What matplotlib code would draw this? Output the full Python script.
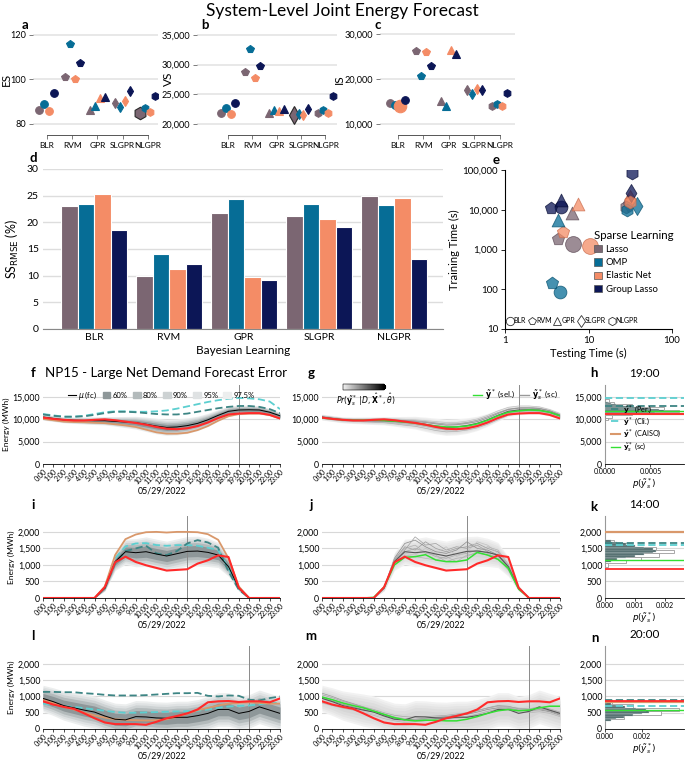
import numpy as np
import matplotlib
matplotlib.use('Agg')
import matplotlib.pyplot as plt
from matplotlib.lines import Line2D
from matplotlib.patches import Patch
from matplotlib.colorbar import ColorbarBase
from matplotlib.colors import LinearSegmentedColormap
from matplotlib.ticker import FuncFormatter, NullLocator

plt.rcParams['font.family'] = ['Lato', 'DejaVu Sans']
plt.rcParams['mathtext.fontset'] = 'dejavusans'

W, H = 685, 761

models = ['BLR', 'RVM', 'GPR', 'SLGPR', 'NLGPR']
methods = ['Lasso', 'OMP', 'Elastic Net', 'Group Lasso']
hours = ['%d:00' % h for h in range(24)]
date_label = '05/29/2022'
band_levels = ['60%', '80%', '90%', '95%', '97.5%']
band_z = [0.8416, 1.2816, 1.6449, 1.96, 2.2414]

# a-e, rows = models, columns = methods
es_scores = [[86.5, 89, 86, 94], [101, 116, 100, 107.5], [86.5, 88, 91.5, 92],
             [89.5, 87.5, 90.5, 95], [85, 87, 85.5, 92.5]]
vs_scores = [[21800, 22700, 21700, 23500], [28700, 32600, 27800, 29800], [21800, 22300, 22200, 22500],
             [21500, 21700, 21500, 22600], [21800, 22400, 21800, 24800]]
is_scores = [[14700, 14300, 14000, 15400], [26300, 20600, 26000, 23000], [15000, 14100, 26400, 25600],
             [17500, 16600, 17700, 17600], [14000, 14400, 14100, 16800]]
ss_rmse = [[23.0, 23.5, 25.3, 18.6], [10.0, 14.0, 11.3, 12.2], [21.8, 24.3, 9.8, 9.2],
           [21.1, 23.5, 20.7, 19.1], [24.9, 23.2, 24.5, 13.1]]
test_time = [[6.6, 4.6, 10.4, 4.7], [4.35, 3.7, 5.0, 3.6], [6.3, 4.35, 7.55, 4.7],
             [30, 38.5, 31.4, 32], [28, 28.7, 31, 32.9]]
train_time = [[1360, 83, 1190, 12000], [1820, 143, 2720, 11300], [8200, 5560, 13700, 17700],
              [14500, 12500, 19000, 26000], [11500, 10000, 16000, 82000]]

# f/g/h : NP15 net demand, 19:00
f_mu = [10500, 10200, 9900, 9800, 9750, 9700, 9700, 9550, 9400, 9250, 8900, 8500,
        8200, 8300, 8600, 9100, 9900, 10900, 11800, 12100, 12150, 12100, 11600, 10800]
f_sd = [300, 300, 300, 320, 350, 380, 420, 480, 560, 640, 720, 780,
        800, 800, 780, 720, 650, 580, 520, 480, 450, 420, 380, 350]
f_obs = [10400, 10100, 9900, 9750, 9750, 9900, 10000, 9800, 9500, 9200, 8800, 8300,
         7900, 7800, 8000, 8500, 9300, 10300, 11100, 11300, 11400, 11400, 11000, 10200]
f_caiso = [10100, 9800, 9500, 9400, 9350, 9250, 9150, 8900, 8650, 8300, 7700, 7100,
           6800, 6800, 7000, 7600, 8500, 9700, 10700, 11200, 11300, 11300, 11000, 10200]
f_cli = [11200, 10900, 10600, 10600, 10800, 11200, 11600, 11800, 11800, 11700, 11700, 11800,
         12000, 12400, 12900, 13400, 13900, 14300, 14600, 14800, 14700, 14500, 14000, 12300]
f_per = [11100, 10800, 10600, 10600, 10700, 11000, 11400, 11700, 11700, 11600, 11400, 11200,
         11100, 11100, 11300, 11700, 12100, 12500, 12800, 13000, 13000, 12800, 12300, 11400]
g_sel = [10300, 10100, 9900, 9800, 9800, 9850, 9750, 9600, 9400, 9150, 8800, 8500,
         8300, 8300, 8500, 9000, 9800, 10800, 11600, 11900, 12100, 12000, 11600, 10800]
g_scen = [
    [10700, 10400, 10100, 10000, 10000, 10000, 10050, 9950, 9800, 9700, 9500, 9200,
     8950, 9000, 9300, 9800, 10600, 11500, 12300, 12600, 12700, 12500, 12000, 11100],
    [10300, 10000, 9750, 9650, 9550, 9450, 9400, 9200, 8950, 8750, 8400, 7900,
     7600, 7650, 7900, 8400, 9200, 10200, 11200, 11600, 11700, 11600, 11200, 10500],
    [10600, 10300, 10000, 9900, 9900, 9850, 9900, 9800, 9700, 9500, 9300, 9000,
     8700, 8800, 9100, 9500, 10300, 11300, 12200, 12500, 12500, 12400, 11900, 11000],
    [10400, 10100, 9800, 9700, 9650, 9600, 9550, 9350, 9150, 8950, 8600, 8100,
     7800, 7900, 8200, 8700, 9500, 10500, 11500, 11800, 11900, 11800, 11400, 10600],
    [10800, 10500, 10200, 10100, 10100, 10150, 10200, 10100, 10000, 9900, 9700, 9500,
     9300, 9300, 9600, 10100, 10900, 11900, 12700, 13000, 13000, 12800, 12200, 11300],
    [10200, 9900, 9650, 9550, 9450, 9350, 9250, 9000, 8700, 8450, 8000, 7500,
     7200, 7300, 7600, 8100, 8900, 9900, 10900, 11300, 11400, 11400, 11000, 10300],
]
h_edges = [11000, 11250, 11500, 11750, 12000, 12250, 12500, 12750, 13000, 13250, 13500, 13750, 14000]
h_dens = [0.0001, 0.0003, 0.00055, 0.00065, 0.0006, 0.0005, 0.0004, 0.0003, 0.0002, 0.00012, 0.00007, 0.00003]
h_edges2 = [9800, 10400, 11000, 11600, 12200, 12800, 13400, 14000, 14600]
h_dens2 = [0.00003, 0.00008, 0.0003, 0.00082, 0.00065, 0.0003, 0.0001, 0.00004]

# i/j/k : 14:00
i_mu = [0, 0, 0, 0, 0, 0, 300, 1100, 1400, 1370, 1400, 1330, 1270, 1340, 1410, 1420, 1380, 1300, 950, 300, 0, 0, 0, 0]
i_sd = [0, 0, 0, 0, 0, 0, 40, 120, 170, 190, 200, 200, 200, 200, 200, 200, 190, 170, 130, 40, 0, 0, 0, 0]
i_obs = [0, 0, 0, 0, 0, 0, 330, 1080, 1250, 1090, 990, 910, 830, 850, 870, 1040, 1140, 1290, 1240, 310, 0, 0, 0, 0]
i_caiso = [0, 0, 0, 0, 0, 0, 350, 1300, 1780, 1920, 1990, 2000, 1980, 2000, 2000, 1990, 1930, 1760, 1200, 350, 0, 0, 0, 0]
i_cli = [0, 0, 0, 0, 0, 0, 320, 1200, 1560, 1650, 1660, 1600, 1580, 1600, 1600, 1580, 1520, 1450, 900, 280, 0, 0, 0, 0]
i_per = [0, 0, 0, 0, 0, 0, 300, 1050, 1420, 1500, 1580, 1350, 1300, 1420, 1650, 1750, 1680, 1520, 800, 250, 0, 0, 0, 0]
j_sel = [0, 0, 0, 0, 0, 20, 330, 1000, 1230, 1250, 1310, 1150, 1100, 1100, 1150, 1380, 1300, 1170, 900, 270, 0, 0, 0, 0]
j_scen = [
    [0, 0, 0, 0, 0, 0, 320, 1150, 1550, 1450, 1700, 1500, 1400, 1500, 1550, 1650, 1500, 1400, 950, 280, 0, 0, 0, 0],
    [0, 0, 0, 0, 0, 0, 280, 1050, 1300, 1250, 1200, 1150, 1250, 1100, 1300, 1350, 1300, 1250, 900, 300, 0, 0, 0, 0],
    [0, 0, 0, 0, 0, 0, 310, 1200, 1650, 1750, 1550, 1400, 1350, 1450, 1700, 1500, 1450, 1300, 1000, 320, 0, 0, 0, 0],
    [0, 0, 0, 0, 0, 0, 290, 1100, 1400, 1500, 1400, 1250, 1200, 1300, 1350, 1450, 1350, 1200, 850, 260, 0, 0, 0, 0],
    [0, 0, 0, 0, 0, 0, 300, 1080, 1350, 1300, 1500, 1350, 1550, 1250, 1400, 1700, 1600, 1350, 980, 300, 0, 0, 0, 0],
    [0, 0, 0, 0, 0, 0, 330, 1180, 1500, 1600, 1350, 1300, 1100, 1200, 1250, 1400, 1550, 1450, 1020, 290, 0, 0, 0, 0],
    [0, 0, 0, 0, 0, 0, 300, 1120, 1450, 1850, 1600, 1650, 1450, 1550, 1500, 1600, 1400, 1280, 930, 310, 0, 0, 0, 0],
]
k_edges = [1100, 1150, 1200, 1250, 1300, 1350, 1400, 1450, 1500, 1550, 1600, 1650, 1700, 1750]
k_dens = [0.0002, 0.0004, 0.0007, 0.001, 0.0013, 0.0016, 0.0017, 0.0016, 0.0013, 0.001, 0.0007, 0.0004, 0.0002]
k_edges2 = [950, 1050, 1150, 1250, 1350, 1450, 1550, 1650, 1750]
k_dens2 = [0.0001, 0.0007, 0.0012, 0.0018, 0.0023, 0.0017, 0.0009, 0.0003]

# l/m/n : 20:00
l_mu = [940, 840, 720, 650, 580, 520, 400, 300, 280, 380, 370, 340, 330, 360, 360, 410, 480, 600, 600, 480, 540, 680, 580, 480]
l_sd = [180, 190, 200, 210, 220, 220, 220, 220, 220, 220, 220, 220, 220, 220, 220, 220, 230, 230, 230, 230, 230, 230, 230, 230]
l_obs = [850, 750, 680, 620, 480, 330, 200, 150, 150, 150, 130, 220, 330, 400, 480, 600, 820, 850, 860, 830, 850, 850, 820, 940]
l_caiso = [900, 800, 680, 600, 500, 420, 350, 300, 280, 270, 260, 270, 300, 370, 470, 580, 650, 720, 780, 800, 820, 800, 780, 780]
l_cli = [780, 730, 700, 680, 640, 600, 560, 520, 500, 500, 510, 520, 530, 540, 550, 560, 600, 650, 690, 710, 720, 760, 800, 800]
l_per = [1140, 1140, 1130, 1130, 1100, 1080, 1050, 1030, 1030, 1030, 1040, 1060, 1080, 1100, 1100, 1110, 1020, 1000, 1030, 1020, 900, 880, 950, 1000]
m_sel = [980, 900, 800, 720, 650, 550, 450, 350, 280, 250, 270, 270, 250, 250, 300, 380, 480, 560, 600, 560, 580, 650, 700, 700]
m_scen = [
    [1100, 1000, 880, 780, 680, 560, 450, 350, 300, 280, 300, 330, 360, 420, 470, 560, 650, 720, 700, 620, 600, 620, 560, 450],
    [800, 720, 640, 580, 500, 420, 320, 250, 200, 220, 250, 280, 300, 330, 350, 420, 500, 560, 580, 520, 500, 530, 480, 380],
    [950, 860, 760, 680, 600, 520, 420, 330, 290, 300, 330, 360, 380, 430, 450, 520, 600, 650, 640, 580, 560, 590, 530, 420],
    [1050, 960, 850, 760, 680, 600, 500, 420, 380, 360, 380, 400, 420, 460, 500, 580, 640, 700, 680, 640, 620, 680, 620, 520],
    [880, 800, 700, 620, 540, 460, 370, 280, 230, 230, 260, 300, 320, 360, 380, 460, 540, 600, 620, 560, 540, 560, 500, 400],
    [1000, 900, 800, 720, 640, 560, 460, 370, 320, 300, 310, 320, 330, 360, 390, 450, 540, 620, 660, 600, 600, 640, 580, 480],
]
n_edges = [250, 300, 350, 400, 450, 500, 550, 600, 650, 700, 750, 800, 850]
n_dens = [0.0003, 0.0006, 0.001, 0.0015, 0.002, 0.0024, 0.0022, 0.0017, 0.0011, 0.0006, 0.0003, 0.0001]
n_edges2 = [300, 420, 540, 660, 780, 900]
n_dens2 = [0.001, 0.003, 0.004, 0.0015, 0.0004]

# styles
method_colors = ['#7b6672', '#066d96', '#f48c66', '#0c1656']
method_edges = ['#5a4753', '#044d6b', '#c9694a', '#050b33']
shapes = ['o', 'p', '^', 'd', 'h']
offsets = [-0.3, -0.1, 0.1, 0.3]
band_colors = ['#8e9799', '#b3babb', '#cdd2d3', '#dfe2e3', '#eceeee']
c_per, c_cli, c_caiso, c_obs, c_sel = '#3d8584', '#5ccfd0', '#d9986b', '#ff2a2a', '#33e033'
comma = FuncFormatter(lambda v, p: '{:,.0f}'.format(v))

fig = plt.figure(figsize=(6.85, 7.61), dpi=100)


def add_ax(x0, y0, x1, y1):
    return fig.add_axes([x0 / W, 1 - y1 / H, (x1 - x0) / W, (y1 - y0) / H])


def letter(x, y, s):
    fig.text(x / W, 1 - y / H, s, fontsize=9.5, fontweight='bold', ha='center', va='center')


fig.text(0.5, 1 - 11 / H, 'System-Level Joint Energy Forecast', fontsize=12.5, ha='center', va='center')


def score_panel(box, vals, xlim, ylim, yticks, ylabel, label_x, big):
    ax = add_ax(*box)
    for i in range(len(models)):
        for j in range(len(methods)):
            large = (i, j) == big
            ax.plot(i + offsets[j], vals[i][j], marker=shapes[i], ls='none',
                    ms=9 if large else 5.5, color=method_colors[j],
                    mec='#2a2a2a' if (large and j == 0) else method_colors[j], mew=0.8)
    ax.set_xlim(*xlim)
    ax.set_ylim(*ylim)
    ax.set_yticks(yticks)
    ax.yaxis.set_major_formatter(comma)
    ax.set_xticks(range(len(models)))
    ax.set_xticklabels(models)
    ax.tick_params(axis='y', labelsize=6.6, color='#666666', length=3, width=0.6, pad=2)
    ax.tick_params(axis='x', labelsize=6.0, color='#666666', length=3, width=0.6, pad=2)
    ax.grid(axis='y', color='#e4e4e4', lw=1.2)
    ax.set_axisbelow(True)
    for s in ['top', 'right', 'left']:
        ax.spines[s].set_visible(False)
    ax.spines['bottom'].set_position(('outward', 5))
    ax.spines['bottom'].set_bounds(0, len(models) - 1)
    ax.spines['bottom'].set_color('#555555')
    ax.spines['bottom'].set_linewidth(0.7)
    ax.set_ylabel(ylabel, fontsize=8.5)
    ax.yaxis.set_label_coords(label_x, 0.5)
    return ax


score_panel((33, 30, 158, 128), es_scores, (-0.55, 4.4), (78.2, 122.2), [80, 100, 120], 'ES', -0.17, (4, 0))
score_panel((197, 30, 337, 128), vs_scores, (-1.28, 4.48), (19326, 35843), [20000, 25000, 30000, 35000], 'VS', -0.165, (3, 0))
score_panel((380, 30, 515, 128), is_scores, (-0.7, 4.6), (9111, 30889), [10000, 20000, 30000], 'IS', -0.26, (0, 2))
letter(25, 25, 'a')
letter(205, 25, 'b')
letter(378, 25, 'c')

# d - bar chart
ax = add_ax(43, 169, 443, 329)
for j in range(len(methods)):
    ax.bar([i + offsets[j] * 1.1 for i in range(len(models))], [row[j] for row in ss_rmse],
           width=0.22, color=method_colors[j], edgecolor='white', lw=0.8)
ax.set_xlim(-0.68, 4.65)
ax.set_ylim(0, 30)
ax.set_yticks(range(0, 31, 5))
ax.set_xticks(range(len(models)))
ax.set_xticklabels(models)
ax.tick_params(labelsize=7.5, length=0, pad=3)
ax.grid(axis='y', color='#dddddd', lw=1.0)
ax.set_axisbelow(True)
for s in ['top', 'right', 'left']:
    ax.spines[s].set_visible(False)
ax.spines['bottom'].set_color('#888888')
ax.set_ylabel(r'SS$_{\mathrm{RMSE}}$ (%)', fontsize=9, labelpad=4)
ax.set_xlabel('Bayesian Learning', fontsize=8.5, labelpad=2)
letter(33, 158, 'd')

# e - time scatter
ax = add_ax(505, 170, 672, 329)
for i in range(len(models)):
    for j in range(len(methods)):
        big = i == 0 and j in (0, 2)
        ax.scatter(test_time[i][j], train_time[i][j], marker=shapes[i], s=130 if big else 85,
                   color=method_colors[j], edgecolors=method_edges[j], linewidths=0.6, alpha=0.75, zorder=3)
ax.set_xscale('log')
ax.set_yscale('log')
ax.set_xlim(1, 100)
ax.set_ylim(10, 100000)
ax.set_xticks([1, 10, 100])
ax.set_xticklabels(['1', '10', '100'])
ax.set_yticks([10, 100, 1000, 10000, 100000])
ax.yaxis.set_major_formatter(comma)
ax.xaxis.set_minor_locator(NullLocator())
ax.yaxis.set_minor_locator(NullLocator())
ax.tick_params(labelsize=7, length=3, width=0.6, pad=2)
for s in ['top', 'right']:
    ax.spines[s].set_visible(False)
ax.set_xlabel('Testing Time (s)', fontsize=8, labelpad=2)
ax.set_ylabel('Training Time (s)', fontsize=8, labelpad=2)
leg1 = ax.legend([Patch(facecolor=c, edgecolor='#555555', lw=0.5) for c in method_colors], methods,
                 title='Sparse Learning', loc='upper left', bbox_to_anchor=(0.5, 0.66), fontsize=6.8,
                 title_fontsize=8.3, frameon=False, handlelength=0.8, handleheight=0.8,
                 handletextpad=0.4, labelspacing=0.45, borderpad=0.1)
leg1._legend_box.align = 'left'
ax.add_artist(leg1)
shape_handles = [Line2D([], [], marker=m, ls='none', mfc='white', mec='#333333', mew=0.6, ms=6) for m in shapes]
ax.legend(shape_handles, models, loc='lower left', bbox_to_anchor=(-0.02, 0.0), ncol=5, fontsize=5,
          frameon=False, handletextpad=0.05, columnspacing=0.35, handlelength=1.0, borderpad=0.2)
letter(496, 160, 'e')


def time_axis(ax, ylim, yticks, vline, ylabel):
    ax.set_xlim(0, 23)
    ax.set_ylim(*ylim)
    ax.set_xticks(range(24))
    ax.set_xticklabels(hours, rotation=45, ha='right', rotation_mode='anchor', fontsize=5.0)
    ax.set_yticks(yticks)
    ax.yaxis.set_major_formatter(comma)
    ax.tick_params(axis='y', labelsize=6.3, length=0, pad=2)
    ax.tick_params(axis='x', length=2, width=0.5, pad=1)
    ax.grid(axis='y', color='#d8d8d8', lw=0.8)
    ax.set_axisbelow(True)
    for s in ['top', 'right', 'left']:
        ax.spines[s].set_visible(False)
    ax.spines['bottom'].set_linewidth(0.6)
    ax.axvline(vline, color='#8a8a8a', lw=0.7, zorder=1.5)
    ax.set_xlabel(date_label, fontsize=6.3, labelpad=0.5)
    if ylabel:
        ax.set_ylabel('Energy (MWh)', fontsize=6, labelpad=2)


def bands(ax, mu, sd, colors, alpha=1.0):
    x = np.arange(24)
    mu = np.array(mu, float)
    sd = np.array(sd, float)
    for z, c in zip(band_z[::-1], colors[::-1]):
        ax.fill_between(x, np.clip(mu - z * sd, 0, None), mu + z * sd, color=c, lw=0, alpha=alpha, zorder=1)


def fan_panel(box, mu, sd, per, cli, caiso, obs, vline, ylim, yticks):
    ax = add_ax(*box)
    bands(ax, mu, sd, band_colors)
    ax.plot(cli, color=c_cli, lw=1.3, ls=(0, (4, 2)), zorder=3)
    ax.plot(per, color=c_per, lw=1.3, ls=(0, (4, 2)), zorder=3)
    ax.plot(caiso, color=c_caiso, lw=1.3, zorder=3)
    ax.plot(mu, color='black', lw=0.7, zorder=4)
    ax.plot(obs, color=c_obs, lw=1.5, zorder=5)
    time_axis(ax, ylim, yticks, vline, True)
    return ax


def scen_panel(box, mu, sd, scen, sel, obs, vline, ylim, yticks):
    ax = add_ax(*box)
    bands(ax, mu, sd, ['#d6d6d6', '#dddddd', '#e4e4e4', '#ebebeb', '#f2f2f2'])
    shades = ['#9a9a9a', '#b5b5b5', '#8a8a8a', '#a8a8a8', '#c2c2c2', '#b0b0b0', '#9f9f9f']
    for k, s in enumerate(scen):
        ax.plot(s, color=shades[k % len(shades)], lw=0.5, zorder=2)
    ax.plot(mu, color='#555555', lw=0.8, zorder=2)
    ax.plot(sel, color=c_sel, lw=1.1, zorder=4)
    ax.plot(obs, color=c_obs, lw=1.5, zorder=5)
    time_axis(ax, ylim, yticks, vline, False)
    return ax


def hist_panel(box, edges, dens, edges2, dens2, hour, per, cli, caiso, obs, sel, xlim, xticks, xlabels, ylim, yticks):
    ax = add_ax(*box)
    ax.barh(edges2[:-1], dens2, height=np.diff(edges2), align='edge', color='white',
            edgecolor='#9a9a9a', lw=0.6, zorder=2)
    ax.barh(edges[:-1], dens, height=np.diff(edges), align='edge', color='#3f5d5e',
            edgecolor='#b9c6c6', lw=0.3, zorder=3)
    ax.axhline(per[hour], color=c_per, lw=1.3, ls=(0, (4, 2)), zorder=4)
    ax.axhline(cli[hour], color=c_cli, lw=1.3, ls=(0, (4, 2)), zorder=4)
    ax.axhline(caiso[hour], color=c_caiso, lw=1.6, zorder=4)
    ax.axhline(obs[hour], color=c_obs, lw=1.3, zorder=4)
    ax.axhline(sel[hour], color=c_sel, lw=1.0, zorder=4)
    ax.set_xlim(*xlim)
    ax.set_ylim(*ylim)
    ax.set_xticks(xticks)
    ax.set_xticklabels(xlabels)
    ax.set_yticks(yticks)
    ax.yaxis.set_major_formatter(comma)
    ax.tick_params(axis='y', labelsize=6.3, length=0, pad=2)
    ax.tick_params(axis='x', labelsize=5, length=2, width=0.5, pad=1)
    ax.grid(axis='y', color='#d8d8d8', lw=0.8)
    ax.set_axisbelow(True)
    for s in ['top', 'right']:
        ax.spines[s].set_visible(False)
    ax.spines['left'].set_color('#999999')
    ax.spines['bottom'].set_linewidth(0.6)
    ax.set_title(hours[hour], fontsize=8.5, pad=6)
    ax.set_xlabel(r'$p(\tilde{y}_s^*)$', fontsize=6.3, labelpad=1)
    return ax


f_ylim, f_ticks = (0, 17700), [0, 5000, 10000, 15000]
i_ylim, i_ticks = (0, 2480), [0, 500, 1000, 1500, 2000]
l_ylim, l_ticks = (0, 2550), [0, 500, 1000, 1500, 2000]

ax = fan_panel((43, 385, 280, 464), f_mu, f_sd, f_per, f_cli, f_caiso, f_obs, 19, f_ylim, f_ticks)
handles = [Line2D([], [], color='black', lw=0.8)] + [Patch(color=c) for c in band_colors]
ax.legend(handles, [r'$\mu$ (fc)'] + band_levels, loc='upper center', bbox_to_anchor=(0.5, 1.04), ncol=6,
          fontsize=5.5, frameon=False, handlelength=1.0, handleheight=0.9, handletextpad=0.3, columnspacing=0.7)
fig.text(45 / W, 1 - 373 / H, 'NP15 - Large Net Demand Forecast Error', fontsize=9.5, va='center')
letter(33, 373, 'f')

ax = scen_panel((322, 385, 560, 464), f_mu, f_sd, g_scen, g_sel, f_obs, 19, f_ylim, f_ticks)
ax.legend([Line2D([], [], color=c_sel, lw=1), Line2D([], [], color='#999999', lw=1)],
          [r'$\tilde{\mathbf{y}}^*$ (sel.)', r'$\tilde{\mathbf{y}}_s^*$ (sc)'], loc='upper right',
          bbox_to_anchor=(1.02, 1.06), ncol=2, fontsize=5.8, frameon=False, handlelength=1.2,
          handletextpad=0.3, columnspacing=0.6)
cax = add_ax(343, 384, 386, 390)
cb = ColorbarBase(cax, cmap=LinearSegmentedColormap.from_list('pr', ['#f0f0f0', '#000000']),
                  orientation='horizontal', extend='max')
cb.set_ticks([])
cb.outline.set_linewidth(0.4)
fig.text(366 / W, 1 - 400 / H, r'$Pr(\tilde{\mathbf{y}}_s^*\,|\,D,\hat{\mathbf{X}}^*,\hat{\theta})$',
         fontsize=5.5, ha='center', va='center')
letter(311, 373, 'g')

ax = hist_panel((605, 385, 684, 464), h_edges, h_dens, h_edges2, h_dens2, 19, f_per, f_cli, f_caiso, f_obs, g_sel,
                (0, 0.00087), [0, 0.0005], ['0.0000', '0.0005'], f_ylim, f_ticks)
ax.legend([Line2D([], [], color=c_per, lw=1.3, ls=(0, (4, 2))), Line2D([], [], color=c_cli, lw=1.3, ls=(0, (4, 2))),
           Line2D([], [], color=c_caiso, lw=1.5), Line2D([], [], color=c_sel, lw=1)],
          [r'$\hat{\mathbf{y}}^*$ (Per.)', r'$\hat{\mathbf{y}}^*$ (Cli.)', r'$\hat{\mathbf{y}}^*$ (CAISO)',
           r'$\tilde{\mathbf{y}}_s^*$ (sc)'],
          loc='lower left', bbox_to_anchor=(0.02, 0.08), fontsize=5.2, frameon=False, handlelength=1.3,
          handletextpad=0.4, labelspacing=0.15, borderpad=0.1)
letter(594, 373, 'h')

fan_panel((43, 516, 280, 598), i_mu, i_sd, i_per, i_cli, i_caiso, i_obs, 14, i_ylim, i_ticks)
letter(33, 505, 'i')
scen_panel((322, 516, 560, 598), i_mu, i_sd, j_scen, j_sel, i_obs, 14, i_ylim, i_ticks)
letter(311, 505, 'j')
hist_panel((605, 516, 684, 598), k_edges, k_dens, k_edges2, k_dens2, 14, i_per, i_cli, i_caiso, i_obs, j_sel,
           (0, 0.00263), [0, 0.001, 0.002], ['0.000', '0.001', '0.002'], i_ylim, i_ticks)
letter(594, 507, 'k')

fan_panel((43, 646, 280, 729), l_mu, l_sd, l_per, l_cli, l_caiso, l_obs, 20, l_ylim, l_ticks)
letter(33, 636, 'l')
scen_panel((322, 646, 560, 729), l_mu, l_sd, m_scen, m_sel, l_obs, 20, l_ylim, l_ticks)
letter(311, 636, 'm')
hist_panel((605, 646, 684, 729), n_edges, n_dens, n_edges2, n_dens2, 20, l_per, l_cli, l_caiso, l_obs, m_sel,
           (0, 0.00427), [0, 0.002], ['0.000', '0.002'], l_ylim, l_ticks)
letter(595, 638, 'n')

fig.savefig('out.png', dpi=100)
